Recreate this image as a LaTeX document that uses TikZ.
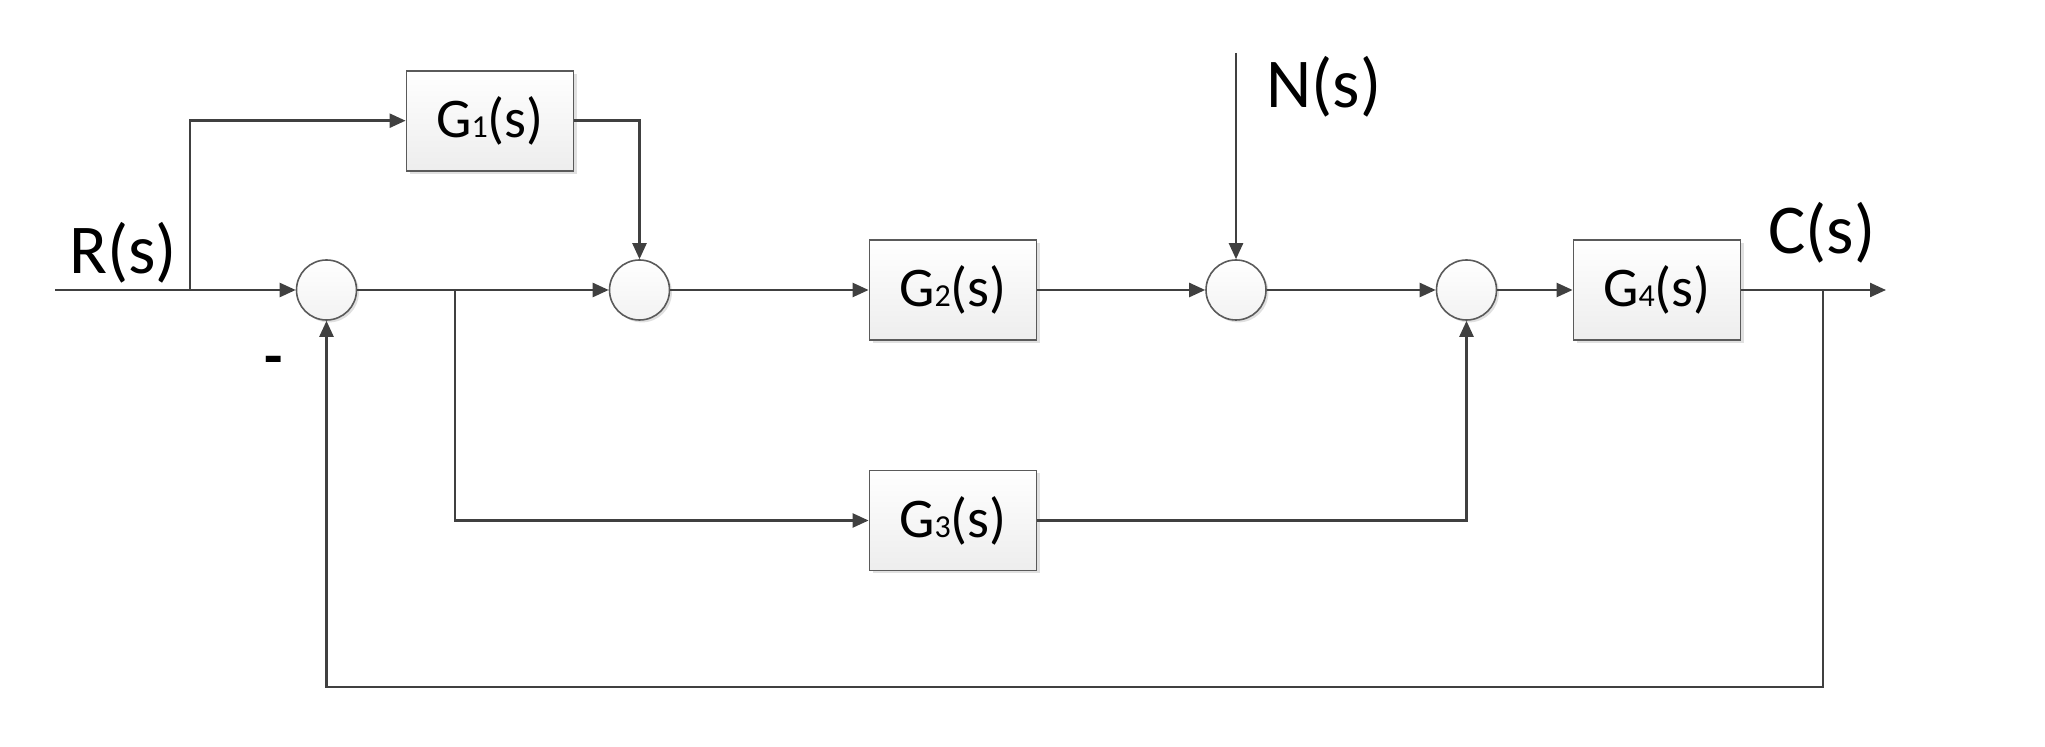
\documentclass[tikz,border=0pt]{standalone}
\usepackage{fontspec}
\setmainfont{Carlito}
\usetikzlibrary{arrows.meta,shadows}
\definecolor{ln}{HTML}{404040}
\definecolor{bd}{HTML}{5A5A5A}
\tikzset{
  blk/.style={draw=bd, line width=0.9pt, minimum width=83.5pt, minimum height=50pt,
    inner sep=0pt, top color=white, bottom color=black!7,
    drop shadow={shadow xshift=1.5pt, shadow yshift=-1.5pt, fill=black!12, opacity=1},
    font=\fontsize{28}{32}\selectfont},
  sumj/.style={circle, draw=bd, line width=0.8pt, minimum size=30pt, inner sep=0pt,
    top color=white, bottom color=black!5,
    drop shadow={shadow xshift=1.2pt, shadow yshift=-1.2pt, fill=black!12, opacity=1}},
  sig/.style={draw=ln, line width=1.2pt, -{Triangle[length=8pt,width=7pt]}},
  lbl/.style={font=\fontsize{35}{40}\selectfont, inner sep=0pt}
}
\newcommand{\sbs}[1]{{\fontsize{16}{16}\selectfont #1}}
\begin{document}
\begin{tikzpicture}[x=0.5pt,y=-0.5pt]
\useasboundingbox (0,0) rectangle (2045,747);
% nodes
\node[blk] (g1) at (490,120.7) {G\sbs{1}(s)};
\node[blk] (g2) at (953,290) {G\sbs{2}(s)};
\node[blk] (g3) at (953,520.5) {G\sbs{3}(s)};
\node[blk] (g4) at (1657,290) {G\sbs{4}(s)};
\node[sumj] (s1) at (326.5,290) {};
\node[sumj] (s2) at (639.5,290) {};
\node[sumj] (s3) at (1236,290) {};
\node[sumj] (s4) at (1466.5,290) {};
\coordinate (rin) at (55,290);
\coordinate (br1) at (190,290);
\coordinate (br2) at (455,290);
\coordinate (ntop) at (1236,53);
\coordinate (br3) at (1823,290);
\coordinate (cout) at (1886,290);
\coordinate (fbR) at (1823,687);
\coordinate (fbL) at (326.5,687);
% labels
\node[lbl, anchor=base west] (lr) at (69,274) {R(s)};
\node[lbl, anchor=base west] (ln) at (1266,108) {N(s)};
\node[lbl, anchor=base west] (lc) at (1768,254) {C(s)};
\node[lbl, font=\fontsize{30}{30}\bfseries\selectfont] (lm) at (274,366) {-};
% connectors
\draw[sig] (rin) -- (s1);
\draw[sig] (br1) |- (g1);
\draw[sig] (g1.east) -| (s2);
\draw[sig] (s1) -- (s2);
\draw[sig] (br2) |- (g3);
\draw[sig] (s2) -- (g2);
\draw[sig] (g2) -- (s3);
\draw[sig] (ntop) -- (s3);
\draw[sig] (s3) -- (s4);
\draw[sig] (g3) -| (s4);
\draw[sig] (s4) -- (g4);
\draw[sig] (g4) -- (cout);
\draw[sig] (br3) -- (fbR) -- (fbL) -- (s1);
\end{tikzpicture}
\end{document}
